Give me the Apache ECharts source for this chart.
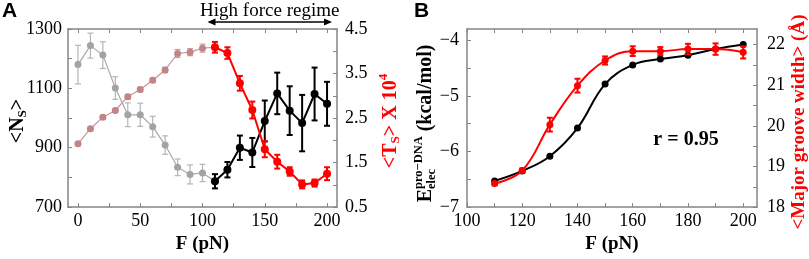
<!DOCTYPE html>
<html><head><meta charset="utf-8">
<script src="https://cdn.jsdelivr.net/npm/echarts@6/dist/echarts.min.js"></script>
<style>html,body{margin:0;padding:0;background:#fff}#c{width:809px;height:259px}</style>
</head><body><div id="c"></div>
<script>
// ---------- Data (panel A) ----------
const forceLow  = [0,10,20,30,40,50,60,70,80,90,100];
const forceHigh = [110,120,130,140,150,160,170,180,190,200];
const nsLow     = [1180,1244,1212,1101,1011,1011,971,909,834,810,815];
const nsLowErr  = [65,42,45,38,40,39,35,31,28,32,29];
const nsHigh    = [787,826,900,884,990,1083,1025,983,1081,1048];
const nsHighErr = [24,26,41,49,69,70,82,95,89,74];
const tsLow     = [1.92,2.26,2.52,2.67,2.98,3.14,3.35,3.58,3.95,3.98,4.07];
const tsLowErr  = [0.04,0.04,0.04,0.04,0.05,0.05,0.05,0.06,0.09,0.08,0.09];
const tsHigh    = [4.09,3.96,3.28,2.68,1.80,1.52,1.30,1.01,1.04,1.25];
const tsHighErr = [0.12,0.13,0.165,0.19,0.18,0.155,0.095,0.09,0.08,0.145];
const regime    = [104,204];   // "High force regime" arrow span (pN)
// ---------- Data (panel B) ----------
const forceB    = [110,120,130,140,150,160,170,180,190,200];
const elecB     = [-6.53,-6.35,-6.085,-5.58,-4.79,-4.445,-4.34,-4.27,-4.16,-4.08];
const grooveB   = [18.58,18.90,20.03,20.99,21.61,21.84,21.84,21.89,21.89,21.81];
const grooveErr = [0.04,0.05,0.17,0.17,0.10,0.12,0.10,0.13,0.14,0.15];
// ---------- Tick labels ----------
const axLabels  = [0,50,100,150,200];
const axTicks   = [0,25,50,75,100,125,150,175,200];
const ayLabels  = [700,900,1100,1300];
const ayTicks   = [700,800,900,1000,1100,1200,1300];
const ayrLabels = [0.5,1.5,2.5,3.5,4.5];
const ayrTicks  = [0.5,1,1.5,2,2.5,3,3.5,4,4.5];
const bxLabels  = [100,120,140,160,180,200];
const bxTicks   = [100,110,120,130,140,150,160,170,180,190,200];
const byLabels  = [-7,-6,-5,-4];
const byTicks   = [-7,-6.5,-6,-5.5,-5,-4.5,-4];
const byrLabels = [18,19,20,21,22];
const byrTicks  = [18,18.5,19,19.5,20,20.5,21,21.5,22];

const SERIF = '"Liberation Serif","Times New Roman",serif';
const SANS = '"Liberation Sans",Arial,sans-serif';
const AX = '#858585';

function zip(xs, ys){ return xs.map((x,i)=>[x, ys[i]]); }
function zip3(xs, ys, es){ return xs.map((x,i)=>[x, ys[i], es[i]]); }

function errSeries(data, color, cap, lw, xi, yi, z){
  return {type:'custom', xAxisIndex:xi, yAxisIndex:yi, data:data, silent:true, z:z,
    encode:{x:0, y:1},
    renderItem(params, api){
      const x=api.value(0), y=api.value(1), e=api.value(2);
      const p1=api.coord([x,y+e]), p2=api.coord([x,y-e]);
      const st={stroke:color, lineWidth:lw};
      return {type:'group', children:[
        {type:'line', shape:{x1:p1[0],y1:p1[1],x2:p2[0],y2:p2[1]}, style:st},
        {type:'line', shape:{x1:p1[0]-cap,y1:p1[1],x2:p1[0]+cap,y2:p1[1]}, style:st},
        {type:'line', shape:{x1:p2[0]-cap,y1:p2[1],x2:p2[0]+cap,y2:p2[1]}, style:st}
      ]};
    }};
}

function axis(grid, pos, min, max, ticks, labels, fmt, margin, showLabel){
  return {gridIndex:grid, type:'value', position:pos, min:min, max:max,
    axisLine:{show:true, onZero:false, lineStyle:{color:AX, width:1.5}},
    axisTick:{show:true, inside:true, length:4, customValues:ticks, lineStyle:{color:AX, width:1}},
    axisLabel:{show:showLabel, customValues:labels, formatter:fmt, fontFamily:SERIF, fontSize:18, color:'#000', margin:margin},
    splitLine:{show:false}};
}

const xA = axis(0,'bottom',-8,208,axTicks,axLabels,v=>String(v),5,true);
xA.name='F (pN)'; xA.nameLocation='middle'; xA.nameGap=19;
xA.nameTextStyle={fontFamily:SERIF, fontWeight:'bold', fontSize:19, color:'#000'};
const xAt = axis(0,'top',-8,208,axTicks,axLabels,v=>String(v),5,false);
const xB = axis(1,'bottom',100,205,bxTicks,bxLabels,v=>String(v),5,true);
xB.name='F (pN)'; xB.nameLocation='middle'; xB.nameGap=19;
xB.nameTextStyle={fontFamily:SERIF, fontWeight:'bold', fontSize:19, color:'#000'};
const xBt = axis(1,'top',100,205,bxTicks,bxLabels,v=>String(v),5,false);

const yA = axis(0,'left',700,1300,ayTicks,ayLabels,v=>String(v),6,true);
const yAr = axis(0,'right',0.5,4.5,ayrTicks,ayrLabels,v=>v.toFixed(1),8,true);
const yB = axis(1,'left',-7,-3.8,byTicks,byLabels,v=>'\u2212'+Math.abs(v),8,true);
const yBr = axis(1,'right',18,22.385,byrTicks,byrLabels,v=>String(v),10,true);

// ---- vertical composite labels ----
const mctx = document.createElement('canvas').getContext('2d');
function tw(t,size){ mctx.font = 'bold '+size+'px '+SERIF; return mctx.measureText(t).width; }
function vlabel(cx, cy, segs, color, M, S){
  let x=0; const items=[];
  segs.forEach(sg=>{
    const parts = sg.stack ? sg.stack : [sg];
    let w=0;
    parts.forEach(p=>{
      const size = p.s ? S : M;
      items.push({t:p.t, size:size, x:x, y:p.dy||0});
      w=Math.max(w, tw(p.t,size));
    });
    x+=w;
  });
  const off = -x/2;
  return {type:'group', x:cx, y:cy, rotation:Math.PI/2, silent:true,
    children: items.map(it=>({type:'text', x:it.x+off, y:it.y,
      style:{text:it.t, fill:color, fontFamily:SERIF, fontWeight:'bold', fontSize:it.size,
        font:'bold '+it.size+'px '+SERIF,
        align:'left', verticalAlign:'middle', textAlign:'left', textVerticalAlign:'middle'}}))};
}

const chart = echarts.init(document.getElementById('c'));
chart.setOption({
  animation:false,
  backgroundColor:'#fff',
  grid:[{left:68, top:29, width:269, height:189},{left:467, top:29, width:290, height:189}],
  xAxis:[xA, xAt, xB, xBt],
  yAxis:[yA, yAr, yB, yBr],
  series:[
    errSeries(zip3(forceLow,nsLow,nsLowErr),'#b4b4b4',3,1.2,0,0,1),
    {type:'line', xAxisIndex:0, yAxisIndex:0, data:zip(forceLow,nsLow).concat([[forceHigh[0],nsHigh[0]]]),
      symbol:'circle', symbolSize:7, lineStyle:{color:'#a9a9a9', width:1.2}, itemStyle:{color:'#a3a3a3'}, z:2},
    errSeries(zip3(forceLow,tsLow,tsLowErr),'#caa0a0',3,1.2,0,1,1),
    {type:'line', xAxisIndex:0, yAxisIndex:1, data:zip(forceLow,tsLow).concat([[forceHigh[0],tsHigh[0]]]),
      symbol:'circle', symbolSize:7, lineStyle:{color:'#c99696', width:1.2}, itemStyle:{color:'#c28484'}, z:2},
    errSeries(zip3(forceHigh,nsHigh,nsHighErr),'#000',3,2,0,0,3),
    {type:'line', xAxisIndex:0, yAxisIndex:0, data:zip(forceHigh,nsHigh),
      symbol:'circle', symbolSize:8, lineStyle:{color:'#000', width:2}, itemStyle:{color:'#000'}, z:4},
    errSeries(zip3(forceHigh,tsHigh,tsHighErr),'#ff0000',3,2,0,1,3),
    {type:'line', xAxisIndex:0, yAxisIndex:1, data:zip(forceHigh,tsHigh),
      symbol:'circle', symbolSize:8, lineStyle:{color:'#ff0000', width:2}, itemStyle:{color:'#ff0000'}, z:4},
    {type:'line', xAxisIndex:2, yAxisIndex:2, data:zip(forceB,elecB), smooth:0.4,
      symbol:'circle', symbolSize:7, lineStyle:{color:'#000', width:2}, itemStyle:{color:'#000'}, z:3},
    errSeries(zip3(forceB,grooveB,grooveErr),'#ff0000',3,2,2,3,4),
    {type:'line', xAxisIndex:2, yAxisIndex:3, data:zip(forceB,grooveB), smooth:0.4,
      symbol:'circle', symbolSize:7, lineStyle:{color:'#ff0000', width:2}, itemStyle:{color:'#ff0000'}, z:5}
  ]
});

const pL = chart.convertToPixel({xAxisIndex:0}, regime[0]);
const pR = chart.convertToPixel({xAxisIndex:0}, regime[1]);
const ay = 22, ah = 8, aw = 3.5;
chart.setOption({graphic:[
  {type:'text', x:2, y:1, style:{text:'A', font:'bold 21px '+SANS, fill:'#000', textAlign:'left', textVerticalAlign:'top'}},
  {type:'text', x:414, y:1, style:{text:'B', font:'bold 21px '+SANS, fill:'#000', textAlign:'left', textVerticalAlign:'top'}},
  {type:'text', x:(pL+pR)/2, y:11, style:{text:'High force regime', font:'19px '+SERIF, fill:'#000', textAlign:'center', textVerticalAlign:'middle'}},
  {type:'line', shape:{x1:pL+ah-1, y1:ay, x2:pR-ah+1, y2:ay}, style:{stroke:'#000', lineWidth:1.5}},
  {type:'polygon', shape:{points:[[pL,ay],[pL+ah,ay-aw],[pL+ah,ay+aw]]}, style:{fill:'#000'}},
  {type:'polygon', shape:{points:[[pR,ay],[pR-ah,ay-aw],[pR-ah,ay+aw]]}, style:{fill:'#000'}},
  vlabel(18, 121, [{t:'<N'},{t:'S', s:1, dy:5},{t:'>'}], '#000', 20, 13),
  vlabel(391, 121, [{t:'<T'},{t:'S', s:1, dy:5},{t:'> X 10'},{t:'4', s:1, dy:-7}], '#ff0000', 20, 13),
  vlabel(426, 123.5, [{t:'E'},{stack:[{t:'pro\u2212DNA', s:1, dy:-7},{t:'elec', s:1, dy:6}]},{t:' (kcal/mol)'}], '#000', 20, 12.5),
  vlabel(799, 122, [{t:'<Major groove width> (\u00C5)'}], '#ff0000', 19, 12),
  {type:'text', x:686, y:140, style:{text:'r = 0.95', font:'bold 20px '+SERIF, fill:'#000', textAlign:'center', textVerticalAlign:'middle'}}
]});
</script>
</body></html>
